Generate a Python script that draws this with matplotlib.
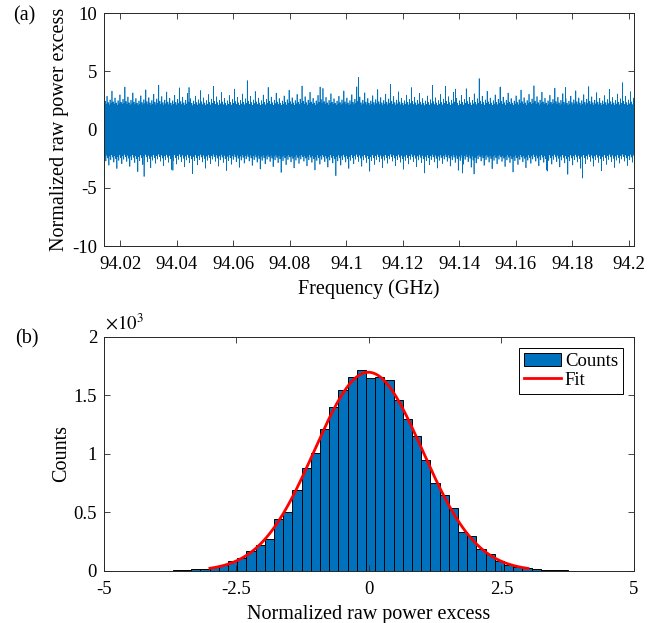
import numpy as np
import matplotlib
matplotlib.use('Agg')
import matplotlib.pyplot as plt

plt.rcParams['font.family'] = ['Liberation Serif', 'DejaVu Serif']
plt.rcParams['mathtext.fontset'] = 'stix'
plt.rcParams['axes.unicode_minus'] = False

# histogram of normalized raw power excess (50 bins)
bin_lo = -4.223
bin_width = 0.1736
counts = [1, 1, 3, 5, 8, 17, 20, 30, 55, 85,
          114, 172, 222, 277, 443, 507, 692, 880, 1006, 1211,
          1398, 1546, 1655, 1720, 1647, 1659, 1632, 1462, 1303, 1154,
          949, 755, 647, 536, 336, 296, 190, 145, 82, 51,
          33, 23, 15, 11, 7, 10, 2, 1, 1, 1]

# gaussian fit
fit_mu = -0.01
fit_sigma = 1.02
fit_range = (-3.0, 3.0)

# frequency span of panel a (GHz)
f_start = 94.0142
f_stop = 94.2018

# the biggest spikes visible in panel a
spike_freq = [94.0284, 94.0386, 94.0443, 94.0907, 94.1043, 94.1305, 94.1386,
              94.1411, 94.1452, 94.1546, 94.1711, 94.1776, 94.1836]
spike_val = [-4.03, -3.5, 3.61, 3.65, 4.47, 3.79, 3.47,
             -3.74, -3.82, 3.65, -3.57, 3.61, -4.17]

edges = bin_lo + bin_width * np.arange(len(counts) + 1)
counts = np.array(counts)
N = counts.sum()

# panel a samples: the histogram values, spread evenly in each bin
vals = np.concatenate([edges[i] + (np.arange(n) + 0.5) / n * bin_width
                       for i, n in enumerate(counts) if n > 0])
# fixed (golden ratio) ordering of the samples along frequency
key = (np.arange(N) * 0.6180339887) % 1.0
series = vals[np.argsort(np.argsort(key))]
freq = np.linspace(f_start, f_stop, N)
for f, v in zip(spike_freq, spike_val):
    series[np.argmin(np.abs(freq - f))] = v

blue = '#0072BD'
dark = '#262626'

fig = plt.figure(figsize=(6.7, 6.23), dpi=100)
ax1 = fig.add_axes([0.1552, 0.6051, 0.7910, 0.3740])
ax2 = fig.add_axes([0.1552, 0.0835, 0.7910, 0.3756])

for ax in (ax1, ax2):
    ax.tick_params(direction='in', top=True, right=True, length=4, width=0.6,
                   colors=dark, labelsize=13.5, labelcolor='black')
    ax.tick_params(axis='x', pad=7)
    ax.tick_params(axis='y', pad=5)
    for s in ax.spines.values():
        s.set_linewidth(0.7)
        s.set_color(dark)

# (a)
ax1.plot(freq, series, color=blue, lw=0.5)
ax1.set_xlim(f_start, f_stop)
ax1.set_ylim(-10, 10)
xt = np.round(np.arange(94.02, 94.2001, 0.02), 2)
ax1.set_xticks(xt)
ax1.set_xticklabels(['%g' % t for t in xt])
ax1.set_yticks([-10, -5, 0, 5, 10])
ax1.set_xlabel('Frequency (GHz)', fontsize=14.5, labelpad=5)
ax1.set_ylabel('Normalized raw power excess', fontsize=14.5, labelpad=2)

# (b)
bars = ax2.bar(edges[:-1], counts, width=bin_width, align='edge', color=blue,
               edgecolor='black', linewidth=0.7, label='Counts')
xf = np.linspace(fit_range[0], fit_range[1], 300)
amp = N * bin_width / (fit_sigma * np.sqrt(2 * np.pi))
yf = amp * np.exp(-(xf - fit_mu) ** 2 / (2 * fit_sigma ** 2))
fit_line, = ax2.plot(xf, yf, color='red', lw=2, label='Fit')
ax2.set_xlim(-5, 5)
ax2.set_ylim(0, 2000)
ax2.set_xticks([-5, -2.5, 0, 2.5, 5])
ax2.set_xticklabels(['-5', '-2.5', '0', '2.5', '5'])
ax2.set_yticks([0, 500, 1000, 1500, 2000])
ax2.set_yticklabels(['0', '0.5', '1', '1.5', '2'])
ax2.set_xlabel('Normalized raw power excess', fontsize=14.5, labelpad=5)
ax2.set_ylabel('Counts', fontsize=14.5, labelpad=2)
leg = ax2.legend([bars, fit_line], ['Counts', 'Fit'], loc='upper right',
                 fontsize=13.5, fancybox=False, edgecolor='black',
                 framealpha=1, borderpad=0.25, handlelength=2.0,
                 handletextpad=0.2, labelspacing=0.1, borderaxespad=0.6)
leg.get_frame().set_linewidth(0.7)

fig.text(105 / 670, 1 - 334 / 623, r'$\times10^3$', fontsize=13.5,
         ha='left', va='bottom')
fig.text(24 / 670, 1 - 16 / 623, '(a)', fontsize=14.5, ha='center', va='center')
fig.text(27 / 670, 1 - 339 / 623, '(b)', fontsize=14.5, ha='center', va='center')

fig.savefig('out.png', dpi=100)
